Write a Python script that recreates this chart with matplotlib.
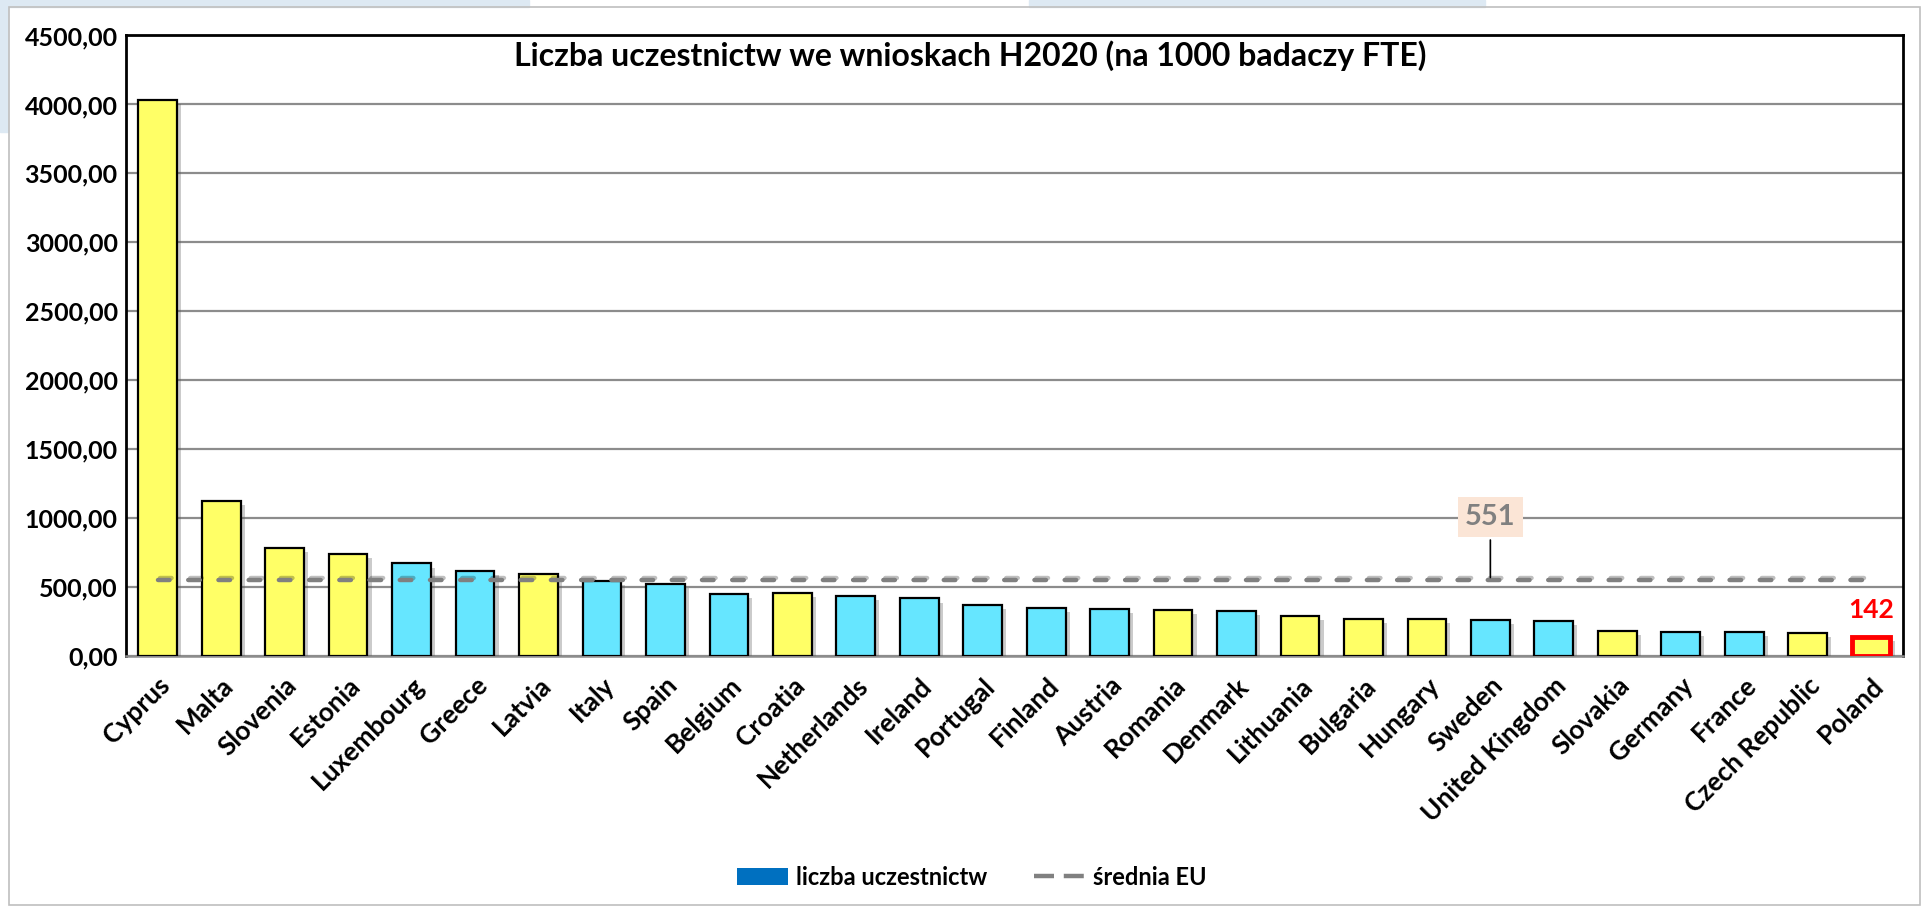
import numpy as np
import matplotlib
matplotlib.use('Agg')
import matplotlib.pyplot as plt
import matplotlib.patheffects as pe
from matplotlib.patches import Patch, Rectangle
from matplotlib.lines import Line2D

plt.rcParams['font.family'] = ['Lato', 'DejaVu Sans']
plt.rcParams['font.weight'] = 'bold'

countries = ['Cyprus', 'Malta', 'Slovenia', 'Estonia', 'Luxembourg', 'Greece', 'Latvia',
             'Italy', 'Spain', 'Belgium', 'Croatia', 'Netherlands', 'Ireland', 'Portugal',
             'Finland', 'Austria', 'Romania', 'Denmark', 'Lithuania', 'Bulgaria', 'Hungary',
             'Sweden', 'United Kingdom', 'Slovakia', 'Germany', 'France', 'Czech Republic',
             'Poland']
values = [4030, 1127, 786, 745, 673, 619, 600, 544, 527, 455, 457, 435, 419, 370,
          348, 341, 337, 331, 290, 272, 273, 266, 254, 186, 177, 177, 172, 142]
# 1 = new member state (yellow), 0 = cyan
new_member = [1, 1, 1, 1, 0, 0, 1, 0, 0, 0, 1, 0, 0, 0,
              0, 0, 1, 0, 1, 1, 1, 0, 0, 1, 0, 0, 1, 1]
eu_avg = 551
title = 'Liczba uczestnictw we wnioskach H2020 (na 1000 badaczy FTE)'

yellow = '#FFFF66'
cyan = '#66E6FF'

fig = plt.figure(figsize=(19.24, 9.09), dpi=100)
ax = fig.add_axes([0.0655, 0.278, 0.9235, 0.683])

# slide background bits and frame
fig.patches.append(Rectangle((0, 0.992), 0.275, 0.008, transform=fig.transFigure, color='#dde9f3', zorder=0))
fig.patches.append(Rectangle((0.535, 0.992), 0.237, 0.008, transform=fig.transFigure, color='#dde9f3', zorder=0))
fig.patches.append(Rectangle((0, 0.855), 0.004, 0.145, transform=fig.transFigure, color='#dde9f3', zorder=0))
fig.patches.append(Rectangle((0.0045, 0.004), 0.9935, 0.988, transform=fig.transFigure,
                             fill=False, edgecolor='#bfbfbf', lw=1.2, zorder=1))

x = np.arange(len(countries))
colors = [yellow if m else cyan for m in new_member]
shadow = [pe.SimplePatchShadow(offset=(3, -3), shadow_rgbFace='#555555', alpha=0.3), pe.Normal()]
bars = ax.bar(x, values, width=0.61, color=colors, edgecolor='black', linewidth=1.6, zorder=3)
for b in bars:
    b.set_path_effects(shadow)
bars[-1].set_edgecolor('#FF0000')
bars[-1].set_linewidth(3.5)

ax.plot(x, [eu_avg] * len(x), color='#808080', lw=3.2, dashes=(2.6, 4.2),
        dash_capstyle='round', zorder=4,
        path_effects=[pe.SimpleLineShadow(offset=(1.5, 2), alpha=0.25), pe.Normal()])

ax.set_xlim(-0.5, len(x) - 0.5)
ax.set_ylim(0, 4500)
ax.set_yticks(np.arange(0, 4501, 500))
ax.set_yticklabels(['{:.2f}'.format(v).replace('.', ',') for v in np.arange(0, 4501, 500)],
                   fontsize=18, fontweight='bold')
ax.set_xticks(x)
ax.set_xticklabels(countries, rotation=45, ha='right', rotation_mode='anchor',
                   fontsize=19, fontweight='bold')
ax.tick_params(axis='x', length=0, pad=12)
ax.tick_params(axis='y', length=0, pad=6)
ax.yaxis.grid(True, color='#8c8c8c', lw=1.6, zorder=0)
ax.set_axisbelow(True)
for s in ['left', 'top', 'right']:
    ax.spines[s].set_linewidth(2)
    ax.spines[s].set_color('black')
ax.spines['bottom'].set_color('#8c8c8c')
ax.spines['bottom'].set_linewidth(1.8)

ax.text(0.475, 0.968, title, transform=ax.transAxes, ha='center', va='center',
        fontsize=23, fontweight='bold')

# EU average callout above Sweden
ix = countries.index('Sweden')
ax.annotate(str(eu_avg), xy=(ix, eu_avg), xytext=(ix, 1010), ha='center', va='center',
            fontsize=21, fontweight='bold', color='#808080',
            bbox=dict(boxstyle='square,pad=0.25', fc='#FBE5D6', ec='none'),
            arrowprops=dict(arrowstyle='-', color='black', lw=1.2), zorder=6)

ax.text(len(x) - 1, values[-1] + 195, str(values[-1]), ha='center', va='center',
        fontsize=19, fontweight='bold', color='#FF0000')

handles = [Patch(facecolor='#0070C0', edgecolor='none'),
           Line2D([0], [0], color='#808080', lw=3.2, dashes=(4.5, 2.2))]
fig.legend(handles, ['liczba uczestnictw', 'średnia EU'], loc='center',
           bbox_to_anchor=(0.505, 0.035), ncol=2, frameon=False, fontsize=17,
           handlelength=2.2, handletextpad=0.3, columnspacing=2.0)

fig.savefig('out.png', dpi=100)
